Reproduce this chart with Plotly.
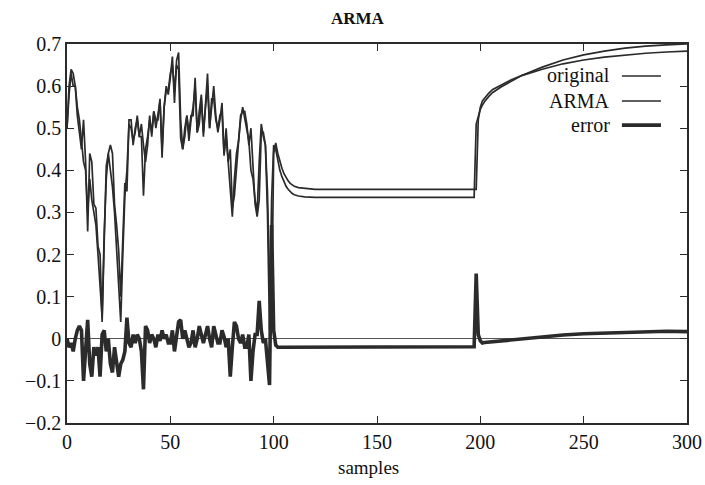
import plotly.graph_objects as go

# ---- data ----
samples = list(range(0, 101)) + [101, 102, 103, 104, 105, 106, 107, 108, 109, 110, 112, 115, 120, 150, 197,
                                  198, 199, 200, 201, 202, 204, 206, 210, 215, 220, 230, 240, 250, 260, 270, 280, 290, 300]

original = [0.50, 0.58, 0.63, 0.60, 0.60, 0.55, 0.52, 0.47, 0.42, 0.40,
            0.30, 0.38, 0.33, 0.30, 0.27, 0.20, 0.11, 0.05, 0.25, 0.38,
            0.44, 0.40, 0.36, 0.30, 0.22, 0.12, 0.04, 0.20, 0.34, 0.40,
            0.51, 0.50, 0.47, 0.49, 0.53, 0.48, 0.48, 0.34, 0.45, 0.48,
            0.52, 0.49, 0.54, 0.50, 0.53, 0.565, 0.45, 0.55, 0.60, 0.58,
            0.62, 0.67, 0.56, 0.66, 0.68, 0.52, 0.45, 0.50, 0.53, 0.47,
            0.52, 0.55, 0.60, 0.49, 0.54, 0.58, 0.48, 0.56, 0.63, 0.50,
            0.55, 0.60, 0.53, 0.49, 0.52, 0.56, 0.44, 0.48, 0.42, 0.36,
            0.29, 0.38, 0.44, 0.47, 0.52, 0.55, 0.52, 0.49, 0.47, 0.40,
            0.38, 0.33, 0.30, 0.42, 0.51, 0.48, 0.46, 0.30, 0.02, 0.33,
            0.46,
            0.45, 0.42, 0.40, 0.385, 0.372, 0.362, 0.355, 0.349, 0.345, 0.342, 0.339, 0.337, 0.336, 0.336, 0.336,
            0.51, 0.53, 0.545, 0.555, 0.563, 0.575, 0.585, 0.598, 0.612, 0.625, 0.645, 0.662, 0.674, 0.683,
            0.690, 0.695, 0.698, 0.700]

arma = [0.50, 0.60, 0.64, 0.63, 0.60, 0.53, 0.49, 0.45, 0.52, 0.42,
        0.255, 0.44, 0.42, 0.32, 0.31, 0.22, 0.20, 0.04, 0.23, 0.41,
        0.44, 0.46, 0.44, 0.32, 0.27, 0.21, 0.10, 0.25, 0.37, 0.35,
        0.52, 0.52, 0.46, 0.50, 0.52, 0.48, 0.51, 0.46, 0.42, 0.46,
        0.53, 0.48, 0.54, 0.52, 0.52, 0.57, 0.43, 0.55, 0.59, 0.59,
        0.63, 0.65, 0.59, 0.65, 0.64, 0.475, 0.45, 0.48, 0.53, 0.49,
        0.53, 0.53, 0.62, 0.49, 0.51, 0.57, 0.49, 0.55, 0.60, 0.50,
        0.57, 0.57, 0.52, 0.50, 0.53, 0.54, 0.435, 0.50, 0.42, 0.45,
        0.31, 0.34, 0.41, 0.47, 0.53, 0.54, 0.54, 0.51, 0.46, 0.50,
        0.41, 0.32, 0.29, 0.33, 0.49, 0.49, 0.46, 0.35, 0.13, 0.06,
        0.44,
        0.465, 0.44, 0.42, 0.405, 0.392, 0.382, 0.375, 0.369, 0.365, 0.362, 0.359, 0.357, 0.355, 0.355, 0.355,
        0.355, 0.52, 0.55, 0.565, 0.572, 0.583, 0.592, 0.603, 0.615, 0.625, 0.640, 0.653, 0.662, 0.669,
        0.674, 0.678, 0.681, 0.683]

error = [0.00, -0.02, -0.01, -0.03, 0.00, 0.02, 0.03, 0.02, -0.10, -0.02,
         0.045, -0.06, -0.09, -0.02, -0.04, -0.02, -0.09, 0.01, 0.02, -0.03,
         0.00, -0.06, -0.08, -0.02, -0.05, -0.09, -0.06, -0.05, -0.03, 0.05,
         -0.01, -0.02, 0.01, -0.01, 0.01, 0.00, -0.03, -0.12, 0.03, 0.02,
         -0.01, 0.01, 0.00, -0.02, 0.01, -0.005, 0.02, 0.00, 0.01, -0.01,
         -0.01, 0.02, -0.03, 0.01, 0.04, 0.045, 0.00, 0.02, 0.00, -0.02,
         -0.01, 0.02, -0.02, 0.00, 0.03, 0.01, -0.01, 0.01, 0.03, 0.00,
         -0.02, 0.03, 0.01, -0.01, -0.01, 0.02, 0.005, -0.02, 0.00, -0.09,
         -0.02, 0.04, 0.03, 0.00, -0.01, 0.01, -0.02, -0.02, 0.01, -0.10,
         -0.03, 0.01, 0.01, 0.09, 0.02, -0.01, 0.00, -0.05, -0.11, 0.27,
         0.02,
         -0.015, -0.02, -0.02, -0.02, -0.02, -0.02, -0.02, -0.02, -0.02, -0.02, -0.02, -0.02, -0.019, -0.019, -0.019,
         0.155, 0.01, -0.005, -0.01, -0.009, -0.008, -0.007, -0.005, -0.003, 0.0, 0.005, 0.009, 0.012, 0.014,
         0.016, 0.017, 0.018, 0.017]

series_names = ["original", "ARMA", "error"]
x_ticks = [0, 50, 100, 150, 200, 250, 300]
y_ticks = [-0.2, -0.1, 0, 0.1, 0.2, 0.3, 0.4, 0.5, 0.6, 0.7]
y_tick_labels = ["\u22120.2", "\u22120.1", "0", "0.1", "0.2", "0.3", "0.4", "0.5", "0.6", "0.7"]

# ---- styling ----
INK = "#2b2b2b"
FONT = "Liberation Serif"
widths = [1.7, 1.7, 3.6]

fig = go.Figure()
for name, ys, w in zip(series_names, [original, arma, error], widths):
    fig.add_trace(go.Scatter(x=samples, y=ys, mode="lines", name=name,
                             line=dict(color=INK, width=w), showlegend=False))

axis_common = dict(showline=True, linecolor=INK, linewidth=1.5, mirror="ticks",
                   ticks="inside", ticklen=7, tickwidth=1.3, tickcolor=INK,
                   showgrid=False, automargin=False, ticklabeloverflow="allow",
                   tickfont=dict(family=FONT, size=20, color="#111"))

fig.update_layout(
    width=705, height=485,
    margin=dict(l=67, r=18, t=44, b=62),
    paper_bgcolor="white", plot_bgcolor="white",
    font=dict(family=FONT, color="#111"),
    xaxis=dict(range=[0, 300], tickvals=x_ticks, zeroline=False, **axis_common),
    yaxis=dict(range=[-0.2, 0.7], tickvals=y_ticks, ticktext=y_tick_labels,
               zeroline=True, zerolinecolor="#555", zerolinewidth=1, **axis_common),
)

# title and axis label
fig.add_annotation(text="<b>ARMA</b>", xref="paper", yref="paper", x=0.47, y=1.0,
                   yanchor="middle", yshift=26, showarrow=False,
                   font=dict(family=FONT, size=17, color="#111"))
fig.add_annotation(text="samples", xref="paper", yref="paper", x=0.487, y=0,
                   yanchor="middle", yshift=-44, showarrow=False,
                   font=dict(family=FONT, size=19, color="#111"))

# legend drawn as text (right aligned) followed by a line sample
legend_y = [0.9156, 0.8496, 0.786]
for name, yy, w in zip(series_names, legend_y, widths):
    fig.add_annotation(text=name, xref="paper", yref="paper", x=0.879, y=yy,
                       xanchor="right", yanchor="middle", showarrow=False,
                       font=dict(family=FONT, size=20, color="#111"))
    fig.add_shape(type="line", xref="paper", yref="paper", x0=0.895, x1=0.958,
                  y0=yy, y1=yy, line=dict(color=INK, width=w))

fig.write_html("out.html", config={"displayModeBar": False},
               post_script="document.body.style.margin='0';document.body.style.overflow='hidden';")
